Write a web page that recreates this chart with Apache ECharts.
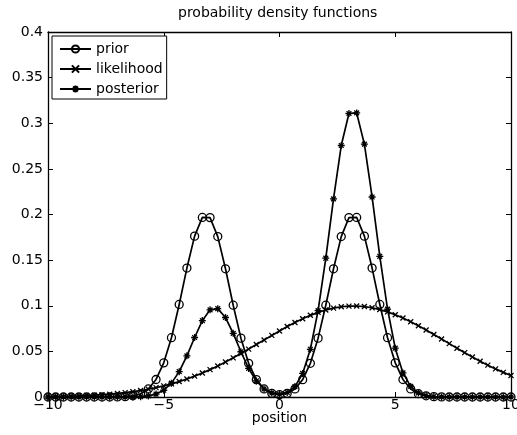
<!DOCTYPE html>
<html>
<head>
<meta charset="utf-8">
<script src="https://cdn.jsdelivr.net/npm/echarts@6/dist/echarts.min.js"></script>
<style>
  html, body { margin: 0; padding: 0; background: #fff; }
  #chart { width: 517px; height: 435px; }
</style>
</head>
<body>
<div id="chart"></div>
<script>
// Sample positions (61 points from -10 to 10)
const xs = [
  -10, -9.667, -9.333, -9, -8.667, -8.333, -8, -7.667, -7.333, -7,
  -6.667, -6.333, -6, -5.667, -5.333, -5, -4.667, -4.333, -4, -3.667,
  -3.333, -3, -2.667, -2.333, -2, -1.667, -1.333, -1, -0.667, -0.333,
  0, 0.333, 0.667, 1, 1.333, 1.667, 2, 2.333, 2.667, 3,
  3.333, 3.667, 4, 4.333, 4.667, 5, 5.333, 5.667, 6, 6.333,
  6.667, 7, 7.333, 7.667, 8, 8.333, 8.667, 9, 9.333, 9.667, 10
];

// Bimodal prior density
const prior = [
  0, 0, 0, 0, 0, 0, 0, 0.0000, 0.0000, 0.0001,
  0.0004, 0.0013, 0.0036, 0.0088, 0.0192, 0.0374, 0.0650, 0.1014, 0.1413, 0.1763,
  0.1968, 0.1966, 0.1758, 0.1405, 0.1006, 0.0645, 0.0369, 0.0190, 0.0088, 0.0040,
  0.0026, 0.0040, 0.0088, 0.0190, 0.0369, 0.0645, 0.1006, 0.1405, 0.1758, 0.1966,
  0.1968, 0.1763, 0.1413, 0.1014, 0.0650, 0.0374, 0.0192, 0.0088, 0.0036, 0.0013,
  0.0004, 0.0001, 0.0000, 0, 0, 0, 0, 0, 0, 0, 0
];

// Broad measurement likelihood
const likelihood = [
  0.0004, 0.0006, 0.0007, 0.0010, 0.0012, 0.0016, 0.0020, 0.0025, 0.0031, 0.0039,
  0.0048, 0.0058, 0.0071, 0.0085, 0.0103, 0.0122, 0.0144, 0.0169, 0.0197, 0.0229,
  0.0263, 0.0300, 0.0340, 0.0383, 0.0429, 0.0476, 0.0525, 0.0575, 0.0625, 0.0675,
  0.0724, 0.0772, 0.0816, 0.0857, 0.0895, 0.0927, 0.0954, 0.0974, 0.0989, 0.0996,
  0.0997, 0.0991, 0.0978, 0.0958, 0.0933, 0.0901, 0.0865, 0.0825, 0.0781, 0.0734,
  0.0685, 0.0635, 0.0585, 0.0535, 0.0486, 0.0438, 0.0392, 0.0349, 0.0308, 0.0270,
  0.0235
];

// Resulting posterior density
const posterior = [
  0, 0, 0, 0, 0, 0, 0, 0, 0, 0,
  0.0000, 0.0001, 0.0004, 0.0012, 0.0032, 0.0074, 0.0152, 0.0278, 0.0451, 0.0652,
  0.0837, 0.0955, 0.0968, 0.0871, 0.0698, 0.0496, 0.0313, 0.0176, 0.0089, 0.0044,
  0.0030, 0.0049, 0.0114, 0.0258, 0.0523, 0.0947, 0.1521, 0.2171, 0.2756, 0.3107,
  0.3113, 0.2771, 0.2192, 0.1542, 0.0963, 0.0535, 0.0264, 0.0116, 0.0045, 0.0016,
  0.0005, 0.0001, 0, 0, 0, 0, 0, 0, 0, 0, 0
];

const seriesNames = ['prior', 'likelihood', 'posterior'];
const xTicks = { min: -10, max: 10, step: 5 };
const yTicks = { min: 0, max: 0.4, step: 0.05 };

const FONT = 'DejaVu Sans, Liberation Sans, sans-serif';
const INK = '#000';

const pairs = ys => xs.map((x, i) => [x, ys[i]]);
const minusFmt = v => (v < 0 ? '\u2212' + (-v) : String(v));

const crossPath = 'path://M0,0L10,10M10,0L0,10';
const starPath = 'path://M5,0L5,10M0,5L10,5M1.6,1.6L8.4,8.4M8.4,1.6L1.6,8.4';

function axisCommon(extra) {
  return Object.assign({
    type: 'value',
    axisLine: { onZero: false, lineStyle: { color: INK, width: 1.3 } },
    axisTick: { inside: true, length: 5, lineStyle: { color: INK, width: 1 } },
    splitLine: { show: false }
  }, extra);
}

function lineSeries(name, ys, symbol, size, fill) {
  return {
    name: name,
    type: 'line',
    data: pairs(ys),
    symbol: symbol,
    symbolSize: size,
    showSymbol: true,
    lineStyle: { color: INK, width: 1.7 },
    itemStyle: { color: fill, borderColor: INK, borderWidth: 1.3 },
    emphasis: { disabled: true },
    animation: false
  };
}

const chart = echarts.init(document.getElementById('chart'), null, { renderer: 'canvas' });
chart.setOption({
  backgroundColor: '#fff',
  animation: false,
  textStyle: { fontFamily: FONT, color: INK },
  title: {
    text: 'probability density functions',
    left: 178,
    top: 6,
    padding: 0,
    textStyle: { fontFamily: FONT, fontSize: 14, fontWeight: 'normal', color: INK }
  },
  grid: { left: 48, right: 6, top: 32, bottom: 38, outerBoundsMode: 'none', containLabel: false },
  legend: {
    data: seriesNames,
    orient: 'vertical',
    left: 52,
    top: 36,
    padding: [5, 4, 2, 7],
    itemGap: 4,
    itemWidth: 31,
    itemHeight: 9,
    selectedMode: false,
    borderColor: INK,
    borderWidth: 1,
    backgroundColor: '#fff',
    textStyle: { fontFamily: FONT, fontSize: 14, color: INK, lineHeight: 16 }
  },
  xAxis: [
    axisCommon({
      position: 'bottom',
      min: xTicks.min, max: xTicks.max, interval: xTicks.step,
      name: 'position',
      nameLocation: 'middle',
      nameGap: 14,
      nameMoveOverlap: false,
      nameTextStyle: { fontFamily: FONT, fontSize: 14, color: INK },
      axisLabel: { color: INK, fontFamily: FONT, fontSize: 14, margin: 1, formatter: minusFmt }
    }),
    axisCommon({
      position: 'top',
      min: xTicks.min, max: xTicks.max, interval: xTicks.step,
      axisLabel: { show: false }
    })
  ],
  yAxis: [
    axisCommon({
      position: 'left',
      min: yTicks.min, max: yTicks.max, interval: yTicks.step,
      axisLabel: { color: INK, fontFamily: FONT, fontSize: 14, margin: 5 }
    }),
    axisCommon({
      position: 'right',
      min: yTicks.min, max: yTicks.max, interval: yTicks.step,
      axisLabel: { show: false }
    })
  ],
  series: [
    lineSeries('prior', prior, 'circle', 8, 'rgba(0,0,0,0)'),
    lineSeries('likelihood', likelihood, crossPath, 5, INK),
    lineSeries('posterior', posterior, starPath, 7, INK)
  ]
});
</script>
</body>
</html>
